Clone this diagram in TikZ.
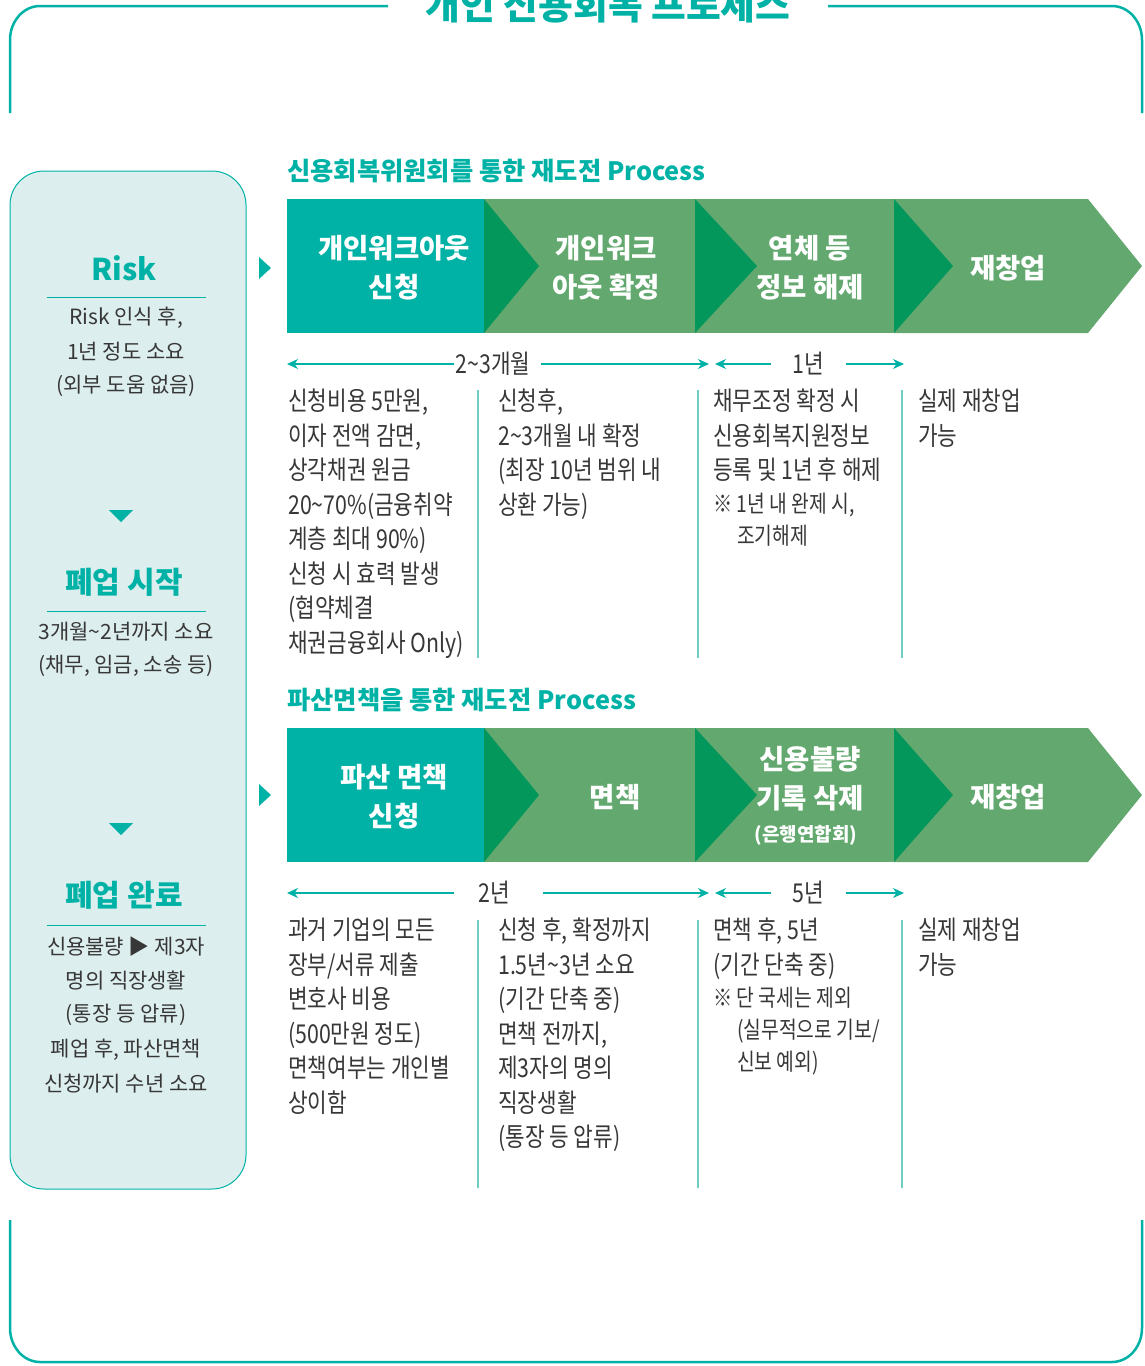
\documentclass[tikz,border=0pt]{standalone}
\usepackage{fontspec}
\setmainfont{Noto Sans CJK KR}
\newfontfamily\condf[FakeStretch=0.82]{Noto Sans CJK KR}
\usetikzlibrary{arrows.meta}
\definecolor{teal1}{RGB}{0,178,166}
\definecolor{lgreen}{RGB}{99,169,111}
\definecolor{dgreen}{RGB}{3,151,92}
\definecolor{panelbg}{RGB}{221,238,238}
\definecolor{bodytxt}{RGB}{55,55,55}
\definecolor{sepline}{RGB}{110,205,196}
\tikzset{
  frameline/.style={draw=teal1, line width=2.5pt},
  bodyline/.style={font=\condf\fontsize{26}{30}\selectfont, text=bodytxt, inner sep=0pt, anchor=base west},
  smallline/.style={font=\condf\fontsize{23.5}{26}\selectfont, text=bodytxt, inner sep=0pt, anchor=base west},
  tlabel/.style={font=\condf\fontsize{26}{30}\selectfont, text=bodytxt, inner sep=0pt},
  chevtxt/.style={font=\bfseries\fontsize{27.5}{39}\selectfont, text=white, align=center, inner sep=0pt},
  chevsub/.style={font=\bfseries\fontsize{19}{22}\selectfont, text=white, inner sep=0pt},
  sechead/.style={font=\bfseries\fontsize{25.3}{28}\selectfont, text=teal1, inner sep=0pt, anchor=west},
  panelhead/.style={font=\bfseries\fontsize{30}{34}\selectfont, text=teal1, inner sep=0pt},
  paneltxt/.style={font=\fontsize{21}{34}\selectfont, text=bodytxt, inner sep=0pt},
  tl/.style={draw=teal1, line width=1.3pt},
  sep/.style={draw=sepline, line width=1.3pt},
  rule/.style={draw=teal1, line width=1pt},
  >={Stealth[length=11pt,width=10pt,inset=3.5pt]}
}
\begin{document}
\begin{tikzpicture}[x=1pt,y=-1pt]
\useasboundingbox (0,0) rectangle (1145,1366);

% outer frame
\draw[frameline] (388,6) -- (40,6) arc[start angle=270,end angle=180,x radius=30,y radius=34] -- (10,113);
\draw[frameline] (828,6) -- (1112,6) arc[start angle=270,end angle=360,x radius=30,y radius=34] -- (1142,113);
\draw[frameline] (10,1220) -- (10,1328) arc[start angle=180,end angle=90,x radius=30,y radius=34] -- (1112,1362) arc[start angle=90,end angle=0,x radius=30,y radius=34] -- (1142,1220);
\node[anchor=base, font=\bfseries\fontsize{37.8}{40}\selectfont, text=teal1, inner sep=0pt] (title) at (608,19) {개인 신용회복 프로세스};

% left panel
\draw[draw=teal1, line width=1pt, fill=panelbg, rounded corners=34pt] (10,171) rectangle (246,1189);
\node[panelhead] (p1) at (124,268) {Risk};
\draw[rule] (47,297) -- (206,297);
\node[paneltxt] (p1a) at (126,318) {Risk 인식 후,};
\node[paneltxt] (p1b) at (126,352) {1년 정도 소요};
\node[paneltxt] (p1c) at (126,386) {(외부 도움 없음)};
\fill[teal1] (109,510) -- (133,510) -- (121,522) -- cycle;
\node[panelhead] (p2) at (124,582) {폐업 시작};
\draw[rule] (47,611) -- (206,611);
\node[paneltxt] (p2a) at (126,632) {3개월\textasciitilde 2년까지 소요};
\node[paneltxt] (p2b) at (126,666) {(채무, 임금, 소송 등)};
\fill[teal1] (109,823) -- (133,823) -- (121,835) -- cycle;
\node[panelhead] (p3) at (124,895) {폐업 완료};
\draw[rule] (47,925) -- (206,925);
\node[paneltxt] (p3a) at (126,947) {신용불량 ▶ 제3자};
\node[paneltxt] (p3b) at (126,981) {명의 직장생활};
\node[paneltxt] (p3c) at (126,1015) {(통장 등 압류)};
\node[paneltxt] (p3d) at (126,1050) {폐업 후, 파산면책};
\node[paneltxt] (p3e) at (126,1084) {신청까지 수년 소요};

% pointers
\fill[teal1] (259,257) -- (271,268) -- (259,279) -- cycle;
\fill[teal1] (259,784) -- (271,795) -- (259,806) -- cycle;

% ---------- process 1 ----------
\node[sechead] (h1) at (287,171) {신용회복위원회를 통한 재도전 Process};
\fill[teal1] (287,199) rectangle (484,333);
\fill[lgreen] (484,199) rectangle (695,333);
\fill[lgreen] (695,199) rectangle (894,333);
\fill[lgreen] (894,199) -- (1088,199) -- (1142,266) -- (1088,333) -- (894,333) -- cycle;
\fill[dgreen] (484,199) -- (539,266) -- (484,333) -- cycle;
\fill[dgreen] (695,199) -- (757,266) -- (695,333) -- cycle;
\fill[dgreen] (894,199) -- (953,266) -- (894,333) -- cycle;
\node[chevtxt] (s11) at (394,267.5) {개인워크아웃\\신청};
\node[chevtxt] (s12) at (606,267.5) {개인워크\\아웃 확정};
\node[chevtxt] (s13) at (810,267.5) {연체 등\\정보 해제};
\node[chevtxt] (s14) at (1008,268) {재창업};

\coordinate (a1l) at (287,364); \coordinate (a1r) at (709,364);
\node[tlabel] (lab1) at (493,364) {2\textasciitilde 3개월};
\draw[tl,<-] (a1l) -- ([xshift=-1pt]lab1.west);
\draw[tl,->] ([xshift=10pt]lab1.east) -- (a1r);
\coordinate (b1l) at (715,364); \coordinate (b1r) at (904,364);
\node[tlabel] (lab2) at (808,364) {1년};
\draw[tl,<-] (b1l) -- ([xshift=-21pt]lab2.west);
\draw[tl,->] ([xshift=22pt]lab2.east) -- (b1r);

\draw[sep] (478,390) -- (478,658);
\draw[sep] (698,390) -- (698,658);
\draw[sep] (902,390) -- (902,658);

\foreach \t [count=\i from 0] in {{신청비용 5만원,},{이자 전액 감면,},{상각채권 원금},{20\textasciitilde 70\%(금융취약},{계층 최대 90\%)},{신청 시 효력 발생},{(협약체결},{채권금융회사 Only)}}
  \node[bodyline] (r1c1-\i) at (288,410.6+\i*34.5) {\t};
\foreach \t [count=\i from 0] in {{신청후,},{2\textasciitilde 3개월 내 확정},{(최장 10년 범위 내},{상환 가능)}}
  \node[bodyline] (r1c2-\i) at (498,410.6+\i*34.5) {\t};
\foreach \t [count=\i from 0] in {{채무조정 확정 시},{신용회복지원정보},{등록 및 1년 후 해제}}
  \node[bodyline] (r1c3-\i) at (713,410.6+\i*34.5) {\t};
\node[smallline] (r1c3-3) at (713,512.7) {※ 1년 내 완제 시,};
\node[smallline] (r1c3-4) at (737,544.7) {조기해제};
\foreach \t [count=\i from 0] in {{실제 재창업},{가능}}
  \node[bodyline] (r1c4-\i) at (918,410.6+\i*34.5) {\t};

% ---------- process 2 ----------
\node[sechead] (h2) at (287,700) {파산면책을 통한 재도전 Process};
\fill[teal1] (287,728) rectangle (484,862);
\fill[lgreen] (484,728) rectangle (695,862);
\fill[lgreen] (695,728) rectangle (894,862);
\fill[lgreen] (894,728) -- (1088,728) -- (1142,795) -- (1088,862) -- (894,862) -- cycle;
\fill[dgreen] (484,728) -- (539,795) -- (484,862) -- cycle;
\fill[dgreen] (695,728) -- (757,795) -- (695,862) -- cycle;
\fill[dgreen] (894,728) -- (953,795) -- (894,862) -- cycle;
\node[chevtxt] (s21) at (394,796.5) {파산 면책\\신청};
\node[chevtxt] (s22) at (615,797) {면책};
\node[chevtxt] (s23) at (810,778.5) {신용불량\\기록 삭제};
\node[chevsub] (s23b) at (806,835) {(은행연합회)};
\node[chevtxt] (s24) at (1008,797) {재창업};

\coordinate (a2l) at (287,893); \coordinate (a2r) at (709,893);
\node[tlabel] (lab3) at (494,893) {2년};
\draw[tl,<-] (a2l) -- ([xshift=-24pt]lab3.west);
\draw[tl,->] ([xshift=33pt]lab3.east) -- (a2r);
\coordinate (b2l) at (715,893); \coordinate (b2r) at (904,893);
\node[tlabel] (lab4) at (808,893) {5년};
\draw[tl,<-] (b2l) -- ([xshift=-21pt]lab4.west);
\draw[tl,->] ([xshift=22pt]lab4.east) -- (b2r);

\draw[sep] (478,920) -- (478,1188);
\draw[sep] (698,920) -- (698,1188);
\draw[sep] (902,920) -- (902,1188);

\foreach \t [count=\i from 0] in {{과거 기업의 모든},{장부/서류 제출},{변호사 비용},{(500만원 정도)},{면책여부는 개인별},{상이함}}
  \node[bodyline] (r2c1-\i) at (288,939.6+\i*34.5) {\t};
\foreach \t [count=\i from 0] in {{신청 후, 확정까지},{1.5년\textasciitilde 3년 소요},{(기간 단축 중)},{면책 전까지,},{제3자의 명의},{직장생활},{(통장 등 압류)}}
  \node[bodyline] (r2c2-\i) at (498,939.6+\i*34.5) {\t};
\foreach \t [count=\i from 0] in {{면책 후, 5년},{(기간 단축 중)}}
  \node[bodyline] (r2c3-\i) at (713,939.6+\i*34.5) {\t};
\node[smallline] (r2c3-2) at (713,1006.7) {※ 단 국세는 제외};
\node[smallline] (r2c3-3) at (737,1038.7) {(실무적으로 기보/};
\node[smallline] (r2c3-4) at (737,1070.7) {신보 예외)};
\foreach \t [count=\i from 0] in {{실제 재창업},{가능}}
  \node[bodyline] (r2c4-\i) at (918,939.6+\i*34.5) {\t};
\end{tikzpicture}
\end{document}
